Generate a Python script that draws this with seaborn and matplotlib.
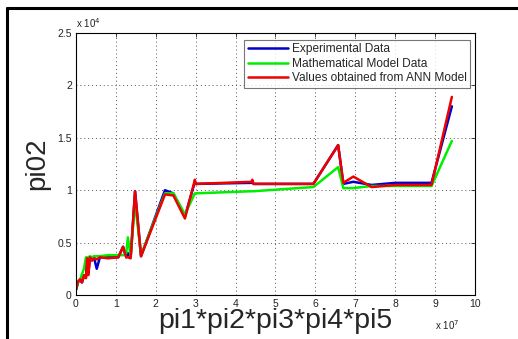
import numpy as np
import pandas as pd
import seaborn as sns
import matplotlib
matplotlib.use("Agg")
from matplotlib import pyplot as plt
from matplotlib.lines import Line2D
from matplotlib.ticker import FuncFormatter, MultipleLocator

# x in units of 1e7, y in units of 1e4
x = [0.0, 0.05, 0.1, 0.15, 0.2, 0.25, 0.28, 0.31, 0.35, 0.4, 0.45, 0.52, 0.6, 0.8,
     1.06, 1.18, 1.26, 1.30, 1.37, 1.48, 1.63, 2.23, 2.44, 2.73, 2.98, 3.0,
     4.40, 4.42, 4.45, 5.95, 6.57, 6.70, 6.95, 7.41, 8.0, 8.91, 9.42]
experimental = [0.05, 0.12, 0.14, 0.12, 0.18, 0.17, 0.34, 0.20, 0.36, 0.33, 0.36, 0.25, 0.36, 0.36,
                0.36, 0.46, 0.36, 0.40, 0.36, 0.99, 0.37, 1.00, 0.97, 0.75, 1.08, 1.06,
                1.07, 1.08, 1.06, 1.06, 1.43, 1.06, 1.08, 1.05, 1.07, 1.07, 1.80]
mathematical = [0.05, 0.12, 0.14, 0.20, 0.25, 0.36, 0.35, 0.36, 0.37, 0.36, 0.37, 0.37, 0.37, 0.38,
                0.38, 0.38, 0.40, 0.55, 0.37, 0.88, 0.38, 0.97, 0.97, 0.77, 0.97, 0.97,
                0.99, 0.99, 0.99, 1.03, 1.22, 1.02, 1.02, 1.04, 1.04, 1.04, 1.47]
ann = [0.05, 0.13, 0.15, 0.12, 0.19, 0.16, 0.35, 0.19, 0.36, 0.33, 0.35, 0.34, 0.36, 0.35,
       0.36, 0.46, 0.36, 0.36, 0.35, 0.99, 0.37, 0.96, 0.95, 0.73, 1.10, 1.06,
       1.08, 1.10, 1.06, 1.06, 1.43, 1.07, 1.13, 1.03, 1.05, 1.05, 1.89]
labels = ["Experimental Data", "Mathematical Model Data", "Values obtained from ANN Model"]
colors = ["#0000cc", "#00ee00", "#ee0000"]

df = pd.DataFrame({"x": np.array(x) * 1e7})
df["exp"] = np.array(experimental) * 1e4
df["math"] = np.array(mathematical) * 1e4
df["ann"] = np.array(ann) * 1e4

sns.set_style("white")
plt.rcParams["font.family"] = ["Liberation Sans", "DejaVu Sans"]

fig = plt.figure(figsize=(5.18, 3.39), dpi=100)
ax = fig.add_axes([0.1467, 0.1298, 0.7703, 0.7729])

for col, lab, c in zip(["exp", "math", "ann"], labels, colors):
    sns.lineplot(data=df, x="x", y=col, color=c, label=lab, sort=False,
                 estimator=None, linewidth=1.8, ax=ax)

ax.set_xlim(0, 1e8)
ax.set_ylim(0, 2.5e4)
ax.xaxis.set_major_locator(MultipleLocator(1e7))
ax.yaxis.set_major_locator(MultipleLocator(0.5e4))
ax.xaxis.set_major_formatter(FuncFormatter(lambda v, p: "%g" % (v / 1e7)))
ax.yaxis.set_major_formatter(FuncFormatter(lambda v, p: "%g" % (v / 1e4)))
ax.grid(True, linestyle=(0, (1, 3)), color="#555555", linewidth=0.7)
ax.tick_params(direction="in", length=3, width=0.6, top=True, right=True,
               labelsize=7.5, labelcolor="#222222", pad=3)
for s in ax.spines.values():
    s.set_color("black")
    s.set_linewidth(0.8)

ax.set_xlabel("pi1*pi2*pi3*pi4*pi5", fontsize=20.5, labelpad=-1)
ax.set_ylabel("pi02", fontsize=20, labelpad=5)

ax.text(0.0, 1.012, "x 10$^{4}$", transform=ax.transAxes, fontsize=7, color="#222222",
        ha="left", va="bottom")
ax.text(0.96, -0.115, "x 10$^{7}$", transform=ax.transAxes, fontsize=7, color="#222222",
        ha="right", va="center")

leg = ax.legend(loc="upper right", bbox_to_anchor=(0.988, 0.975), fontsize=8.6,
                frameon=True, fancybox=False, borderpad=0.3, labelspacing=0.22,
                handlelength=3.4, handletextpad=0.3, borderaxespad=0)
leg.get_frame().set_edgecolor("#555555")
leg.get_frame().set_linewidth(0.8)

# black frame around the picture
fig.add_artist(Line2D([7 / 518, 7 / 518], [0, 1 - 8 / 339], color="black", linewidth=2.2,
                      transform=fig.transFigure))
fig.add_artist(Line2D([7 / 518, 1], [1 - 8 / 339, 1 - 8 / 339], color="black", linewidth=2.2,
                      transform=fig.transFigure))

fig.savefig("out.png", dpi=100)
